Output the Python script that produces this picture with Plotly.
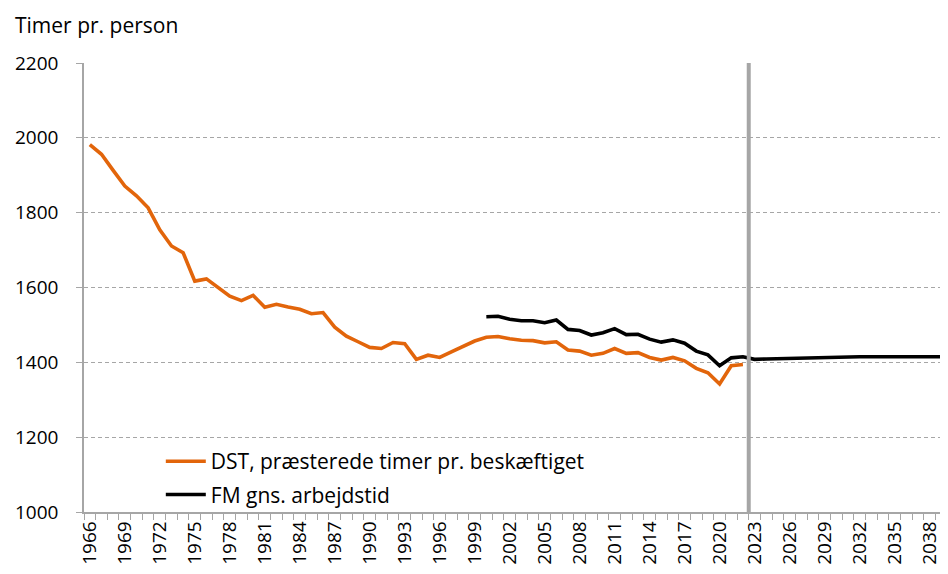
"""
Arbejdstid pr. person: DST-historik og FM-fremskrivning
"""
import plotly.graph_objs as go

# Data
dst_years = list(range(1966, 2023))
dst_hours = [
    1982, 1956, 1913, 1871, 1845, 1813, 1754, 1711, 1693, 1617,
    1623, 1600, 1577, 1565, 1579, 1547, 1555, 1548, 1542, 1530,
    1533, 1494, 1470, 1455, 1440, 1437, 1453, 1450, 1408, 1419,
    1413, 1428, 1442, 1457, 1467, 1469, 1463, 1459, 1458, 1452,
    1455, 1433, 1430, 1419, 1424, 1437, 1424, 1426, 1413, 1406,
    1413, 1404, 1384, 1372, 1342, 1391, 1394,
]

fm_years = list(range(2000, 2040))
fm_hours = [
    1522, 1523, 1515, 1511, 1511, 1506, 1513, 1488, 1485, 1473,
    1479, 1490, 1474, 1475, 1462, 1454, 1460, 1451, 1430, 1420,
    1391, 1412, 1415, 1408, 1409, 1410, 1410, 1411, 1412, 1413,
    1414, 1415, 1415, 1415, 1414, 1415, 1415, 1415, 1415, 1415,
]

year_ticks = list(range(1966, 2039, 3))
y_ticks = [1000, 1200, 1400, 1600, 1800, 2000, 2200]

DST_NAME = "DST, præsterede timer pr. beskæftiget"
FM_NAME = "FM gns. arbejdstid"
FORECAST_SPLIT = 2022.5  # grey divider between history and projection

ORANGE = "#E2650B"
BLACK = "#000000"
GREY = "#A6A6A6"
FONT = "Open Sans"

# the page body adds an 8px margin, so the figure is sized to fit inside it
WIDTH, HEIGHT = 940, 566

fig = go.Figure()

fig.add_trace(go.Scatter(
    x=dst_years,
    y=dst_hours,
    mode="lines",
    name=DST_NAME,
    legendgroup="dst",
    line=dict(color=ORANGE, width=3.6),
))

fig.add_trace(go.Scatter(
    x=fm_years,
    y=fm_hours,
    mode="lines",
    name=FM_NAME,
    legendgroup="fm",
    line=dict(color=BLACK, width=3.6),
))

fig.add_shape(
    type="line",
    xref="x", yref="paper",
    x0=FORECAST_SPLIT, x1=FORECAST_SPLIT,
    y0=0, y1=1,
    line=dict(color=GREY, width=4),
    layer="above",
)

# y-axis title sits above the plot, left aligned like in Excel
fig.add_annotation(
    text="Timer pr. person",
    xref="paper", yref="paper",
    x=-71 / 863, y=1 + 38 / 449,
    xanchor="left", yanchor="middle",
    showarrow=False,
    font=dict(family=FONT, size=21, color="#000000"),
)

fig.update_layout(
    width=WIDTH,
    height=HEIGHT,
    margin=dict(l=76, r=1, t=55, b=62, autoexpand=False),
    paper_bgcolor="white",
    plot_bgcolor="white",
    font=dict(family=FONT, size=19, color="#000000"),
    showlegend=True,
    legend=dict(
        x=0.089,
        y=0.158,
        xanchor="left",
        yanchor="top",
        bgcolor="rgba(0,0,0,0)",
        font=dict(family=FONT, size=21),
        tracegroupgap=3,
        itemwidth=40,
    ),
)

fig.update_xaxes(
    range=[1965.5, 2039.5],
    tickmode="array",
    tickvals=year_ticks,
    ticktext=[str(y) for y in year_ticks],
    tickangle=-90,
    ticks="",
    showgrid=False,
    showline=True,
    linecolor=GREY,
    linewidth=1.5,
    zeroline=False,
    automargin=False,
    minor=dict(
        ticks="outside",
        tick0=1965.5,
        dtick=1,
        ticklen=6,
        tickcolor=GREY,
        tickwidth=1,
        showgrid=False,
    ),
)

fig.update_yaxes(
    range=[1000, 2200],
    tickmode="array",
    tickvals=y_ticks,
    ticks="outside",
    ticklen=6,
    tickcolor=GREY,
    ticklabelstandoff=14,
    showgrid=True,
    gridcolor=GREY,
    gridwidth=1,
    griddash="4px,3px",
    showline=True,
    linecolor=GREY,
    linewidth=1.5,
    zeroline=False,
    automargin=False,
)

fig.write_html("out.html")
